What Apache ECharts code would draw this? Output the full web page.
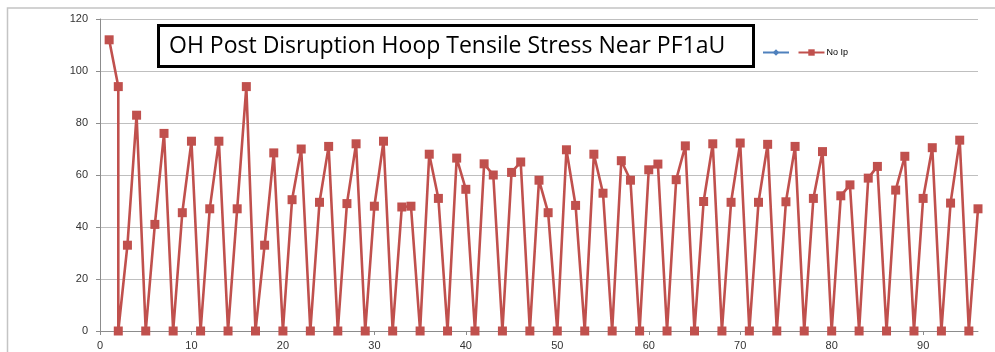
<!DOCTYPE html>
<html>
<head>
<meta charset="utf-8">
<script src="https://cdn.jsdelivr.net/npm/echarts@6/dist/echarts.min.js"></script>
<style>html,body{margin:0;padding:0;background:#fff}#c{width:995px;height:352px}</style>
</head>
<body>
<div id="c"></div>
<script>
const titleText = 'OH Post Disruption Hoop Tensile Stress Near PF1aU';
const seriesNames = [' ', 'No Ip'];
const xTicks = [0, 10, 20, 30, 40, 50, 60, 70, 80, 90];
const yTicks = [0, 20, 40, 60, 80, 100, 120];
const xValues = [1, 2, 2, 3, 4, 5, 6, 7, 8, 9, 10, 11, 12, 13, 14, 15, 16, 17, 18, 19, 20,
  21, 22, 23, 24, 25, 26, 27, 28, 29, 30, 31, 32, 33, 34, 35, 36, 37, 38, 39, 40,
  41, 42, 43, 44, 45, 46, 47, 48, 49, 50, 51, 52, 53, 54, 55, 56, 57, 58, 59, 60,
  61, 62, 63, 64, 65, 66, 67, 68, 69, 70, 71, 72, 73, 74, 75, 76, 77, 78, 79, 80,
  81, 82, 83, 84, 85, 86, 87, 88, 89, 90, 91, 92, 93, 94, 95, 96];
const noIpValues = [112, 94, 0, 33, 83, 0, 41, 76, 0, 45.5, 73, 0, 47, 73, 0, 47, 94, 0,
  33, 68.5, 0, 50.5, 70, 0, 49.5, 71, 0, 49, 72, 0, 48, 73, 0,
  47.7, 48, 0, 68, 51, 0, 66.5, 54.5, 0, 64.3, 60, 0, 61, 65, 0, 58, 45.5, 0,
  69.7, 48.3, 0, 68, 53, 0, 65.5, 58, 0, 62, 64.2, 0, 58.2, 71.2, 0,
  49.8, 72, 0, 49.5, 72.3, 0, 49.5, 71.8, 0, 49.7, 71, 0, 51, 69, 0,
  52, 56.2, 0, 58.8, 63.3, 0, 54.2, 67.2, 0, 51, 70.5, 0, 49.2, 73.4, 0, 47];
const blueValues = [];

const chart = echarts.init(document.getElementById('c'), null, {renderer: 'canvas'});
const noIpData = xValues.map((x, i) => [x, noIpValues[i]]);

chart.setOption({
  animation: false,
  backgroundColor: '#ffffff',
  graphic: [{
    type: 'rect', silent: true, z: -1,
    shape: {x: 7.5, y: 8, width: 1000, height: 360},
    style: {fill: 'none', stroke: '#c4c4c4', lineWidth: 1.5}
  }],
  title: {
    text: titleText,
    left: 158, top: 25,
    padding: [8, 29, 8, 11],
    borderColor: '#000', borderWidth: 3,
    backgroundColor: '#fff',
    textStyle: {fontFamily: 'Open Sans', fontSize: 23, fontWeight: 'normal', color: '#000', lineHeight: 26}
  },
  legend: {
    left: 762, top: 48,
    itemWidth: 26, itemHeight: 8, itemGap: 4,
    padding: 0,
    textStyle: {fontFamily: 'Liberation Sans', fontSize: 9, color: '#000', padding: [0, 0, 0, -3]},
    data: seriesNames
  },
  grid: {left: 100, right: 17, top: 19, bottom: 21, containLabel: false},
  xAxis: {
    type: 'value', min: 0, max: 96, interval: 10,
    axisLine: {show: true, lineStyle: {color: '#8c8c8c', width: 1}},
    axisTick: {show: true, length: 4, inside: false, lineStyle: {color: '#8c8c8c'}, customValues: xTicks},
    axisLabel: {customValues: xTicks, margin: 9, fontFamily: 'Liberation Sans', fontSize: 11, color: '#333'},
    splitLine: {show: false}
  },
  yAxis: {
    type: 'value', min: 0, max: 120, interval: 20,
    axisLine: {show: true, lineStyle: {color: '#8c8c8c', width: 1}},
    axisTick: {show: true, length: 4, lineStyle: {color: '#8c8c8c'}, customValues: yTicks},
    axisLabel: {customValues: yTicks, margin: 12, fontFamily: 'Liberation Sans', fontSize: 11, color: '#333'},
    splitLine: {show: true, lineStyle: {color: '#bfbfbf', width: 1.2}}
  },
  series: [
    {
      name: seriesNames[0], type: 'line', data: blueValues, smooth: false,
      symbol: 'diamond', symbolSize: 7,
      itemStyle: {color: '#4F81BD'}, lineStyle: {color: '#4F81BD', width: 2.5}
    },
    {
      name: seriesNames[1], type: 'line', data: noIpData, smooth: false,
      symbol: 'rect', symbolSize: 9,
      itemStyle: {color: '#C0504D'}, lineStyle: {color: '#C0504D', width: 2.6},
      z: 3
    }
  ]
});
</script>
</body>
</html>
